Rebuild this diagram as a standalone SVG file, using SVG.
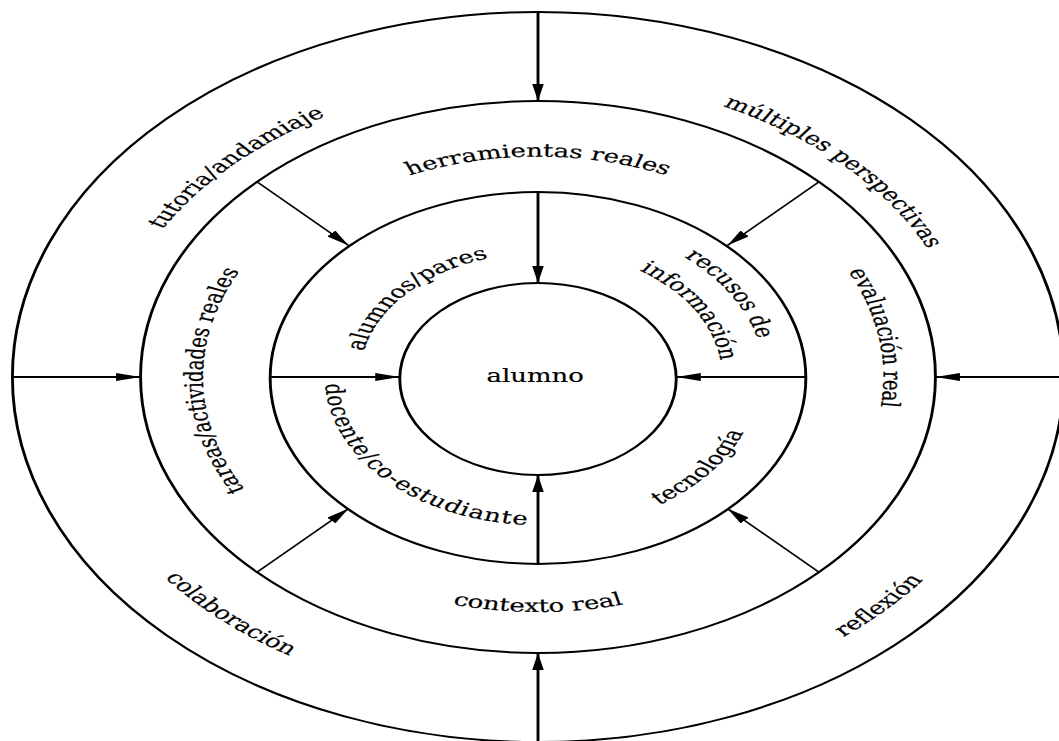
<svg xmlns="http://www.w3.org/2000/svg" xmlns:xlink="http://www.w3.org/1999/xlink" width="1059" height="741" viewBox="0 0 1059 741">
<style>
.ring{fill:none;stroke:#000;stroke-width:2}
.conn{fill:none;stroke:#000;stroke-width:2;marker-end:url(#ah)}
.diag{stroke-width:1.4}
.lbl{font-family:"DejaVu Serif","Liberation Serif",serif;font-size:18px;fill:#000;stroke:#000;stroke-width:0.2}
</style>
<defs>
<marker id="ah" viewBox="0 0 17 8" refX="17" refY="4" markerWidth="17" markerHeight="8" markerUnits="userSpaceOnUse" orient="auto"><path d="M0,0 L17,4 L0,8 z" fill="#000"/></marker>
<path id="p-tutoria" d="M-229.8,192.8 A300,300 0 0 1 192.8,-229.8"/>
<path id="p-multiples" d="M-192.8,-229.8 A300,300 0 0 1 229.8,192.8"/>
<path id="p-reflexion" d="M-211.4,261.1 A336,336 0 0 0 253.6,-220.4"/>
<path id="p-colaboracion" d="M-261.9,-197.4 A328,328 0 0 0 223.7,239.9"/>
<path id="p-herramientas" d="M-219.2,-19.2 A220,220 0 0 1 219.2,-19.2"/>
<path id="p-contexto" d="M-234.1,20.5 A235,235 0 0 0 234.1,20.5"/>
<path id="p-evaluacion" d="M-18.8,-239.3 A240,240 0 0 1 60.1,232.3"/>
<path id="p-tareas" d="M-16.3,232.4 A233,233 0 0 1 -24.4,-231.7"/>
<path id="p-alumnos" d="M-92.1,83 A124,124 0 0 1 76.3,-97.7"/>
<path id="p-recusos1" d="M-71.3,-139.9 A157,157 0 0 1 94.5,125.4"/>
<path id="p-recusos2" d="M-58.1,-113.8 A127.8,127.8 0 0 1 76.9,102.1"/>
<path id="p-tecnologia" d="M-85.6,126.8 A153,153 0 0 0 106.3,-110.1"/>
<path id="p-docente" d="M-113.4,-95.1 A148,148 0 0 0 95.1,113.4"/>
</defs>
<rect width="1059" height="741" fill="#fff"/>
<g transform="translate(538,377) scale(1.44,1)">
  <g id="ring-outer"><circle class="ring" cx="0" cy="0" r="365"/></g>
  <g id="ring-real"><circle class="ring" cx="0" cy="0" r="276"/></g>
  <g id="ring-mediadores"><circle class="ring" cx="0" cy="1" r="186"/></g>
  <g id="node-alumno"><circle class="ring" cx="0" cy="2" r="96"/><text class="lbl" x="-2" y="4.7" text-anchor="middle">alumno</text></g>

  <g id="label-tutoria"><text class="lbl"><textPath xlink:href="#p-tutoria" href="#p-tutoria" startOffset="50%" text-anchor="middle">tutoria/andamiaje</textPath></text></g>
  <g id="label-multiples"><text class="lbl"><textPath xlink:href="#p-multiples" href="#p-multiples" startOffset="50%" text-anchor="middle">múltiples perspectivas</textPath></text></g>
  <g id="label-reflexion"><text class="lbl"><textPath xlink:href="#p-reflexion" href="#p-reflexion" startOffset="50%" text-anchor="middle">reflexión</textPath></text></g>
  <g id="label-colaboracion"><text class="lbl"><textPath xlink:href="#p-colaboracion" href="#p-colaboracion" startOffset="50%" text-anchor="middle">colaboración</textPath></text></g>

  <g id="label-herramientas"><text class="lbl"><textPath xlink:href="#p-herramientas" href="#p-herramientas" startOffset="50%" text-anchor="middle">herramientas reales</textPath></text></g>
  <g id="label-contexto"><text class="lbl"><textPath xlink:href="#p-contexto" href="#p-contexto" startOffset="50%" text-anchor="middle">contexto real</textPath></text></g>
  <g id="label-evaluacion"><text class="lbl"><textPath xlink:href="#p-evaluacion" href="#p-evaluacion" startOffset="50%" text-anchor="middle">evaluación real</textPath></text></g>
  <g id="label-tareas"><text class="lbl"><textPath xlink:href="#p-tareas" href="#p-tareas" startOffset="50%" text-anchor="middle">tareas/actividades reales</textPath></text></g>

  <g id="label-alumnos"><text class="lbl"><textPath xlink:href="#p-alumnos" href="#p-alumnos" startOffset="50%" text-anchor="middle">alumnos/pares</textPath></text></g>
  <g id="label-recusos"><text class="lbl"><textPath xlink:href="#p-recusos1" href="#p-recusos1" startOffset="50%" text-anchor="middle">recusos de</textPath></text><text class="lbl"><textPath xlink:href="#p-recusos2" href="#p-recusos2" startOffset="50%" text-anchor="middle">información</textPath></text></g>
  <g id="label-tecnologia"><text class="lbl"><textPath xlink:href="#p-tecnologia" href="#p-tecnologia" startOffset="50%" text-anchor="middle">tecnología</textPath></text></g>
  <g id="label-docente"><text class="lbl" letter-spacing="0.8"><textPath xlink:href="#p-docente" href="#p-docente" startOffset="50%" text-anchor="middle">docente/co-estudiante</textPath></text></g>

  <g id="connectors">
    <path class="conn" d="M0,-365 L0,-276"/>
    <path class="conn" d="M0,-185 L0,-94"/>
    <path class="conn" d="M0,365 L0,276"/>
    <path class="conn" d="M0,187 L0,98"/>
    <path class="conn" d="M-365,0 L-276,0"/>
    <path class="conn" d="M-186,0 L-96,0"/>
    <path class="conn" d="M365,0 L276,0"/>
    <path class="conn" d="M186,0 L96,0"/>
    <path class="conn diag" d="M-195.2,-195.2 L-131.5,-131.5"/>
    <path class="conn diag" d="M195.2,-195.2 L131.5,-131.5"/>
    <path class="conn diag" d="M-195.2,195.2 L-131.5,131.5"/>
    <path class="conn diag" d="M195.2,195.2 L131.5,131.5"/>
  </g>
</g>
</svg>
